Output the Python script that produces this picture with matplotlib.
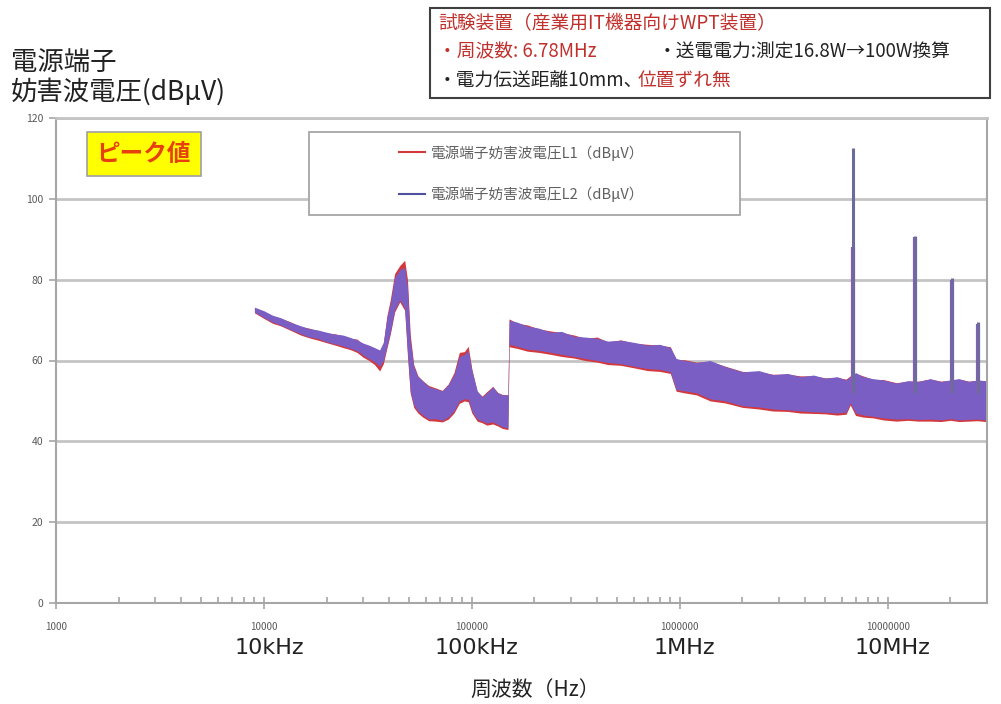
import matplotlib
matplotlib.use("Agg")
import matplotlib.pyplot as plt
import matplotlib.transforms as mtransforms
from matplotlib.patches import Rectangle
from matplotlib.lines import Line2D

plt.rcParams['font.family'] = ['Noto Sans CJK JP', 'DejaVu Sans']

# band envelopes of the two traces (Hz, dBuV)
freq_hz = [9000, 10000, 11000, 12000, 13500, 15000, 16500, 18000, 20000, 22000, 24000,
           26000, 28000, 30000, 32000, 34000, 36000, 37500, 39000, 40500, 42500,
           45000, 47500, 49000, 50500, 52500, 55000, 58000, 62000, 67000, 72000,
           77000, 82000, 87000, 92000, 96000, 100000, 106000, 112000, 118000, 126000,
           133000, 140000, 149000, 151000, 165000, 185000, 210000, 240000, 270000,
           310000, 350000, 400000, 450000, 520000, 600000, 700000, 800000, 900000,
           960000, 1050000, 1200000, 1400000, 1650000, 2000000, 2400000, 2800000,
           3300000, 3800000, 4400000, 5000000, 5700000, 6300000, 6600000, 7000000,
           7600000, 8500000, 9500000, 11000000, 12500000, 14000000, 16000000,
           18000000, 20000000, 22000000, 24500000, 27000000, 29500000]
l2_top = [73.2, 72.3, 71.2, 70.6, 69.4, 68.6, 67.9, 67.6, 67.0, 66.5, 66.3,
          65.7, 65.1, 64.3, 63.8, 63.2, 62.6, 64.5, 70.5, 74.0, 80.5,
          82.5, 83.0, 78.0, 65.0, 58.5, 56.0, 55.0, 53.5, 53.0, 52.5,
          54.0, 56.5, 61.0, 61.5, 62.5, 57.5, 52.5, 51.0, 52.0, 53.5,
          52.0, 51.5, 51.5, 70.0, 69.5, 68.5, 68.0, 67.0, 67.2,
          66.0, 65.8, 65.5, 64.8, 65.0, 64.5, 63.8, 64.0, 63.2,
          60.5, 60.0, 59.5, 60.0, 58.5, 57.2, 57.5, 56.5,
          56.8, 56.0, 56.4, 55.6, 56.0, 55.2, 56.0, 57.0,
          56.0, 55.5, 55.2, 54.4, 55.0, 54.8, 55.5,
          54.8, 55.2, 55.5, 54.8, 55.2, 55.0]
l2_bottom = [72.0, 70.6, 69.5, 68.8, 67.6, 66.6, 65.8, 65.5, 64.6, 64.1, 63.6,
             63.0, 62.4, 61.3, 60.4, 59.7, 58.5, 60.0, 63.5, 67.0, 72.5,
             75.0, 73.0, 62.0, 52.5, 49.0, 47.5, 46.5, 45.5, 45.6, 45.2,
             46.0, 47.5, 50.0, 50.5, 50.5, 47.5, 45.5, 45.0, 44.5, 44.8,
             44.2, 43.6, 43.3, 64.0, 63.5, 62.8, 62.5, 62.0, 61.5,
             61.0, 60.5, 60.0, 59.5, 59.2, 58.6, 58.0, 57.8, 57.2,
             52.8, 52.5, 52.0, 50.5, 50.0, 48.8, 48.5, 48.0,
             47.8, 47.5, 47.3, 47.2, 47.0, 47.2, 49.5, 47.0,
             46.5, 46.2, 45.8, 45.5, 45.6, 45.4, 45.5,
             45.3, 45.6, 45.3, 45.4, 45.5, 45.3]
l1_top = [73.0, 72.1, 71.0, 70.5, 69.5, 68.4, 68.0, 67.4, 66.8, 66.6, 66.1,
          65.5, 65.3, 64.0, 63.6, 63.0, 62.2, 64.2, 71.0, 75.0, 81.5,
          83.5, 84.8, 80.0, 66.5, 59.0, 56.2, 55.0, 53.8, 53.2, 52.6,
          54.2, 57.0, 62.0, 62.2, 63.5, 57.8, 52.3, 51.2, 52.3, 53.6,
          52.1, 51.6, 51.5, 70.3, 69.2, 68.8, 67.8, 67.3, 66.9,
          66.3, 65.5, 65.8, 64.6, 65.1, 64.3, 64.0, 63.8, 63.4,
          60.2, 60.2, 59.6, 59.8, 58.6, 57.3, 57.2, 56.6,
          56.6, 56.2, 56.2, 55.7, 55.8, 55.4, 56.2, 56.8,
          56.2, 55.3, 55.3, 54.5, 54.9, 54.9, 55.4,
          54.9, 55.1, 55.4, 54.9, 55.1, 54.9]
l1_bottom = [71.8, 70.4, 69.2, 68.6, 67.4, 66.3, 65.6, 65.1, 64.4, 63.8, 63.2,
             62.7, 62.0, 60.8, 60.0, 59.0, 57.4, 59.2, 63.0, 66.5, 72.0,
             74.5, 72.4, 61.2, 52.0, 48.4, 47.0, 46.0, 45.1, 45.0, 44.8,
             45.5, 47.0, 49.4, 50.0, 49.8, 47.0, 45.0, 44.6, 44.0, 44.3,
             43.8, 43.2, 42.9, 63.4, 63.0, 62.3, 62.0, 61.5, 61.0,
             60.6, 60.0, 59.6, 59.0, 58.8, 58.2, 57.5, 57.3, 56.8,
             52.4, 52.0, 51.5, 50.0, 49.5, 48.4, 48.0, 47.5,
             47.4, 47.0, 46.9, 46.8, 46.5, 46.7, 49.0, 46.4,
             46.0, 45.8, 45.3, 45.0, 45.2, 45.0, 45.0,
             44.9, 45.2, 44.9, 45.0, 45.1, 44.9]

# harmonic spikes of the 6.78 MHz carrier
spike_hz = [6780000, 13560000, 20340000, 27120000]
spike_floor = [52.0, 52.0, 52.0, 52.0]
spike_l1 = [88.0, 90.5, 80.0, 69.0]
spike_l2 = [112.5, 90.8, 80.5, 69.5]

series_names = ['電源端子妨害波電圧L1（dBμV）', '電源端子妨害波電圧L2（dBμV）']
decade_ticks = [1000, 10000, 100000, 1000000, 10000000]
decade_names = ['10kHz', '100kHz', '1MHz', '10MHz']
decade_name_pos = [10000, 100000, 1000000, 10000000]

red = '#d2383c'
blue = '#7a5ec4'
grey = '#a6a6a6'

fig = plt.figure(figsize=(10.01, 7.04), dpi=100)
ax = fig.add_axes([56 / 1001, 101 / 704, 931 / 1001, 485 / 704])

ax.fill_between(freq_hz, l1_bottom, l1_top, color=red, lw=0, zorder=2)
ax.fill_between(freq_hz, l2_bottom, l2_top, color=blue, lw=0, zorder=3)
ax.vlines(spike_hz, spike_floor, spike_l1, color='#8a5ab8', lw=3, zorder=3)
ax.vlines(spike_hz, spike_floor, spike_l2, color='#6c6c9c', lw=2.2, zorder=3)

ax.set_xscale('log')
ax.set_xlim(1000, 30000000)
ax.set_ylim(0, 120)
ax.set_yticks(range(0, 121, 20))
ax.set_xticks(decade_ticks)
ax.set_xticklabels([str(t) for t in decade_ticks])
ax.grid(axis='y', color='#c4c4c4', lw=2.0)
ax.set_axisbelow(True)
for s in ax.spines.values():
    s.set_color(grey)
    s.set_linewidth(1.5)
ax.spines['top'].set_color('#c4c4c4')
ax.spines['top'].set_linewidth(2.0)
ax.tick_params(axis='y', colors=grey, labelcolor='#595959', labelsize=7.5,
               length=5, width=1.2, pad=4)
ax.tick_params(axis='x', which='major', direction='inout', colors=grey,
               labelcolor='#595959', labelsize=7, length=8, width=1.2, pad=10)
ax.tick_params(axis='x', which='minor', direction='in', colors=grey, length=4, width=1.2)

# large frequency labels under the decades
trans = mtransforms.blended_transform_factory(ax.transData, ax.transAxes)
shift = mtransforms.ScaledTranslation(5 / 100, 0, fig.dpi_scale_trans)
for f, name in zip(decade_name_pos, decade_names):
    ax.text(f, -0.092, name, transform=trans + shift, ha='center', va='center',
            fontsize=16, color='#222222', family=['DejaVu Sans'])

# legend in a wide box
ax.add_patch(Rectangle((0.272, 0.800), 0.463, 0.171, transform=ax.transAxes,
                       fc='white', ec=grey, lw=1.3, zorder=6))
handles = [Line2D([], [], color=red, lw=1.5), Line2D([], [], color='#5050a0', lw=1.5)]
leg = ax.legend(handles, series_names, loc='center', bbox_to_anchor=(0.500, 0.886),
                frameon=False, fontsize=10.5, labelspacing=1.75, handlelength=1.8,
                handletextpad=0.4, labelcolor='#606060')
leg.set_zorder(7)

# peak label
ax.text(0.0945, 0.926, 'ピーク値', transform=ax.transAxes, ha='center', va='center',
        fontsize=17, color='#e8400c', fontweight='bold', zorder=7,
        bbox=dict(boxstyle='square,pad=0.42', fc='#ffff00', ec='#a0a0a0', lw=1.2))

# y label at top left
fig.text(11 / 1001, 1 - 49 / 704, '電源端子\n妨害波電圧(dBμV)', ha='left', va='top',
         fontsize=19, linespacing=1.1, color='#222222')

# x label
fig.text(535 / 1001, 1 - 690 / 704, '周波数（Hz）', ha='center', va='center',
         fontsize=15, color='#222222')

# test conditions box
fig.patches.append(Rectangle((430 / 1001, 1 - 98 / 704), 560 / 1001, 90 / 704,
                             transform=fig.transFigure, fc='white', ec='#404040', lw=1.5))
tkw = dict(va='center', ha='left', fontsize=13.5)
fig.text(438 / 1001, 1 - 24 / 704, '試験装置（産業用IT機器向けWPT装置）', color='#c0302c', **tkw)
fig.text(438 / 1001, 1 - 52 / 704, '・周波数: 6.78MHz', color='#c0302c', **tkw)
fig.text(658 / 1001, 1 - 52 / 704, '・送電電力:測定16.8W→100W換算', color='#222222', **tkw)
fig.text(438 / 1001, 1 - 80 / 704, '・電力伝送距離10mm、', color='#222222', **tkw)
fig.text(638 / 1001, 1 - 80 / 704, '位置ずれ無', color='#c0302c', **tkw)

fig.savefig('out.png', dpi=100)
